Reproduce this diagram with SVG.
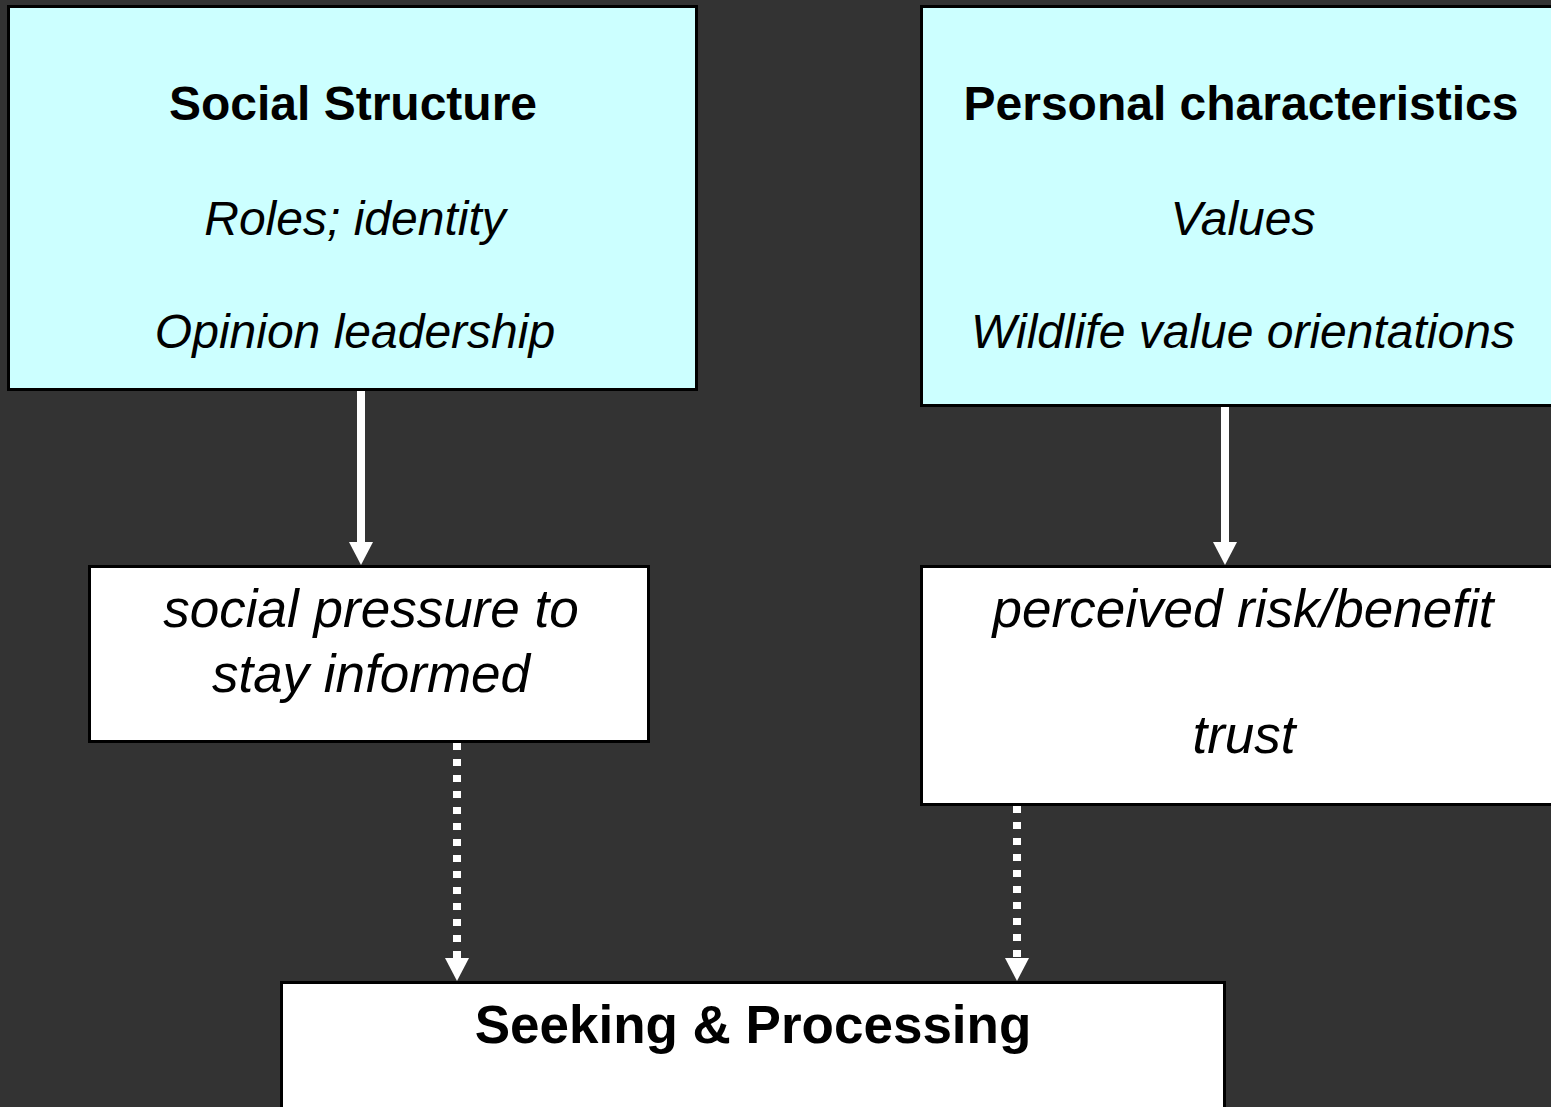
<svg xmlns="http://www.w3.org/2000/svg" width="1551" height="1107" viewBox="0 0 1551 1107">
<style>
.bg{fill:#333333}
.cyan{fill:#CCFFFF;stroke:#000000;stroke-width:3}
.white{fill:#FFFFFF;stroke:#000000;stroke-width:3}
.t{font-family:"Liberation Sans",Arial,sans-serif;fill:#000000;text-anchor:middle}
.b{font-weight:bold}
.i{font-style:italic}
.solid{stroke:#FFFFFF;stroke-width:8;fill:none}
.dot{stroke:#FFFFFF;stroke-width:8;fill:none;stroke-dasharray:7 9}
.head{fill:#FFFFFF}
</style>
<rect class="bg" x="0" y="0" width="1551" height="1107"/>
<g id="social-structure">
<rect class="cyan" x="8.5" y="6.5" width="688" height="383"/>
<text class="t b" x="353" y="120" font-size="48">Social Structure</text>
<text class="t i" x="355" y="235" font-size="48">Roles; identity</text>
<text class="t i" x="355" y="348" font-size="48">Opinion leadership</text>
</g>
<g id="personal-characteristics">
<rect class="cyan" x="921.5" y="6.5" width="650" height="399"/>
<text class="t b" x="1241" y="120" font-size="48">Personal characteristics</text>
<text class="t i" x="1243" y="235" font-size="48">Values</text>
<text class="t i" x="1243" y="348" font-size="48">Wildlife value orientations</text>
</g>
<g id="social-pressure">
<rect class="white" x="89.5" y="566.5" width="559" height="175"/>
<text class="t i" x="371" y="627" font-size="53">social pressure to</text>
<text class="t i" x="371" y="692" font-size="53">stay informed</text>
</g>
<g id="perceived-risk">
<rect class="white" x="921.5" y="566.5" width="650" height="238"/>
<text class="t i" x="1243" y="627" font-size="53">perceived risk/benefit</text>
<text class="t i" x="1244" y="753" font-size="53">trust</text>
</g>
<g id="seeking-processing">
<rect class="white" x="281.5" y="982.5" width="943" height="200"/>
<text class="t b" x="753" y="1043" font-size="53">Seeking &amp; Processing</text>
</g>
<g id="connectors">
<line class="solid" x1="361" y1="391" x2="361" y2="544"/>
<polygon class="head" points="349,542 373,542 361,565"/>
<line class="solid" x1="1225" y1="407" x2="1225" y2="544"/>
<polygon class="head" points="1213,542 1237,542 1225,565"/>
<line class="dot" x1="457" y1="743" x2="457" y2="960"/>
<polygon class="head" points="445,958 469,958 457,981"/>
<line class="dot" x1="1017" y1="806" x2="1017" y2="960"/>
<polygon class="head" points="1005,958 1029,958 1017,981"/>
</g>
</svg>
